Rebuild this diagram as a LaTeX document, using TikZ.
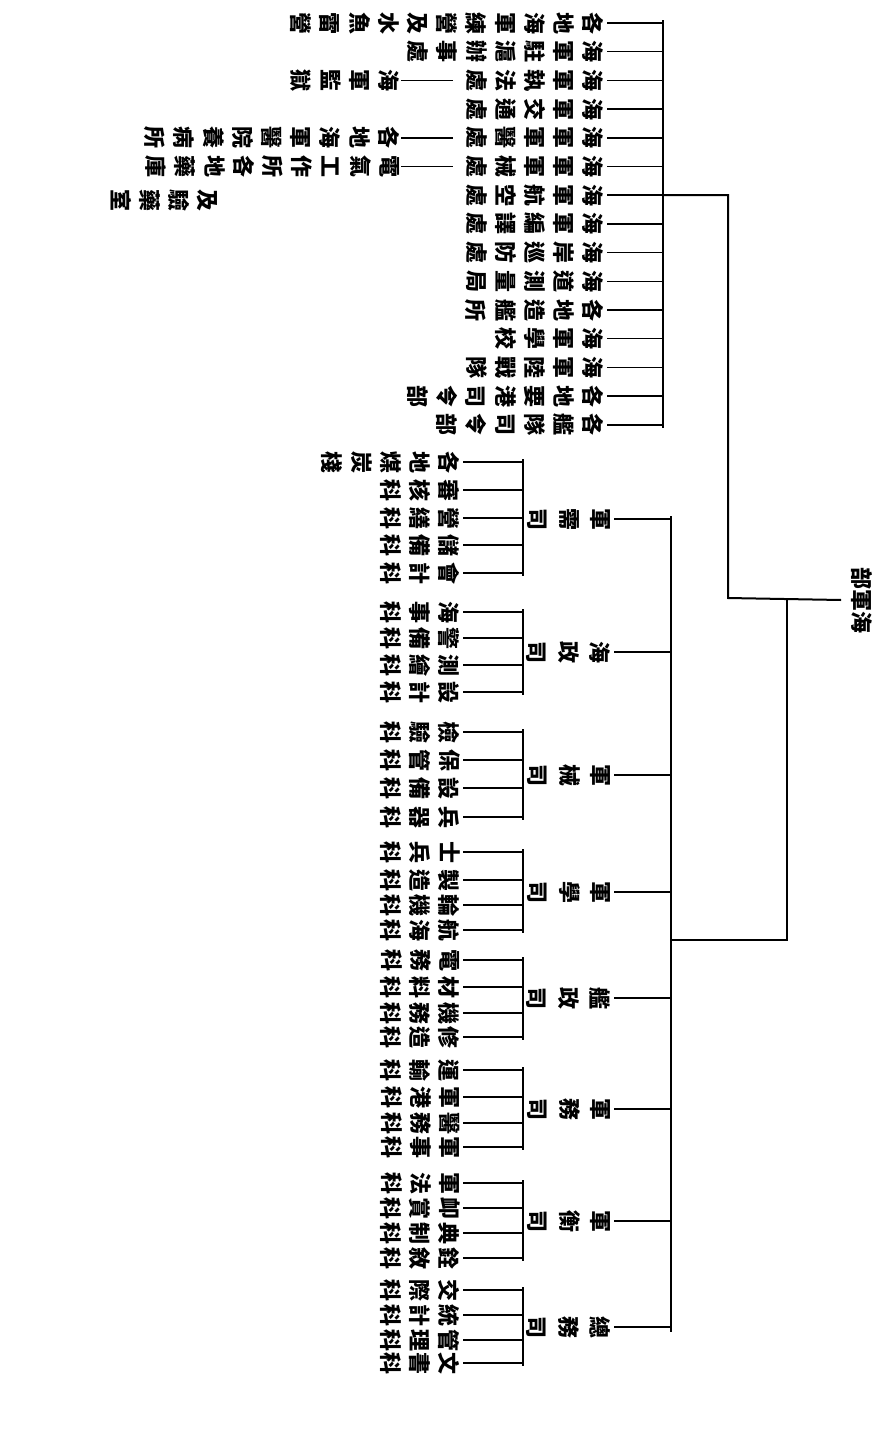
\documentclass[tikz,border=0pt]{standalone}
\usepackage{fontspec}
\newfontfamily\cjk{Noto Sans CJK TC}
\newcommand\uitem[4]{\node[ch] (#1) at ({593-29.2*#2+11},{23+28.7*(#3-1)}) {#4};}
\newcommand\sitem[3]{\node[ch] (#1) at (460,#2) {#3};}
\begin{document}
\begin{tikzpicture}[x=1pt,y=-1pt,
  ch/.style={font=\cjk\bfseries\fontsize{22}{29.2}\selectfont, rotate=-90, align=center, inner sep=0pt, anchor=north},
  sl/.style={ch, font=\cjk\bfseries\fontsize{22}{31.5}\selectfont},
  rootlbl/.style={font=\cjk\bfseries\fontsize{22}{26}\selectfont, rotate=-90, inner sep=0pt},
  bar/.style={line width=2pt},
  tk/.style={line width=1.5pt}]
\fill[white] (0,0) rectangle (881,1443);
\useasboundingbox (0,0) rectangle (881,1443);

% ---------- root ----------
\node[rootlbl] (root) at (862,600) {部軍海};

% ---------- upper section ----------
\uitem{u1}{0}{1}{各\\地\\海\\軍\\練\\營\\及\\水\\魚\\雷\\營}
\uitem{u2}{0}{2}{海\\軍\\駐\\滬\\辦\\事\\處}
\uitem{u3}{0}{3}{海\\軍\\執\\法\\處}
\uitem{u3a}{7}{3}{海\\軍\\監\\獄}
\uitem{u4}{0}{4}{海\\軍\\交\\通\\處}
\uitem{u5}{0}{5}{海\\軍\\軍\\醫\\處}
\uitem{u5a}{7}{5}{各\\地\\海\\軍\\醫\\院\\養\\病\\所}
\uitem{u6}{0}{6}{海\\軍\\軍\\械\\處}
\uitem{u6a}{7}{6}{電\\氣\\工\\作\\所\\各\\地\\藥\\庫}
\node[ch] (u6b) at (218,200) {及\\驗\\藥\\室};
\uitem{u7}{0}{7}{海\\軍\\航\\空\\處}
\uitem{u8}{0}{8}{海\\軍\\編\\譯\\處}
\uitem{u9}{0}{9}{海\\岸\\巡\\防\\處}
\uitem{u10}{0}{10}{海\\道\\測\\量\\局}
\uitem{u11}{0}{11}{各\\地\\造\\艦\\所}
\uitem{u12}{0}{12}{海\\軍\\學\\校}
\uitem{u13}{0}{13}{海\\軍\\陸\\戰\\隊}
\uitem{u14}{0}{14}{各\\地\\要\\港\\司\\令\\部}
\uitem{u15}{0}{15}{各\\艦\\隊\\司\\令\\部}

\coordinate (ubar) at (663,0);
\coordinate (ja) at (728,598);
\coordinate (jb) at (787,598);
\coordinate (jc) at (787,940);
\coordinate (mbar) at (671,0);
\coordinate (sbar) at (523,0);

\draw[bar] ([yshift=3pt]u1.north -| ubar) -- ([yshift=-3pt]u15.north -| ubar);
\foreach \k in {1,...,15} \draw[tk] ([xshift=3pt]u\k.north) -- (u\k.north -| ubar);
\draw[tk] ([xshift=-13pt]u3.south) -- ([xshift=1pt]u3a.north);
\draw[tk] ([xshift=-13pt]u5.south) -- ([xshift=1pt]u5a.north);
\draw[tk] ([xshift=-13pt]u6.south) -- ([xshift=1pt]u6a.north);

% ---------- root connectors ----------
\draw[bar] ([xshift=-10pt]root.south) -- (ja) -- (ja |- u7.north) -- (u7.north -| ubar);
\draw[bar] (jb) -- (jc) -- (jc -| mbar);

% ---------- second level ----------
\node[sl] (s1) at (611,519) {軍\\需\\司};
\node[sl] (s2) at (611,652) {海\\政\\司};
\node[sl] (s3) at (611,775) {軍\\械\\司};
\node[sl] (s4) at (611,892) {軍\\學\\司};
\node[sl] (s5) at (611,998) {艦\\政\\司};
\node[sl] (s6) at (611,1109) {軍\\務\\司};
\node[sl] (s7) at (611,1221) {軍\\衡\\司};
\node[sl] (s8) at (611,1327) {總\\務\\司};
\draw[bar] ([yshift=3pt]s1.north -| mbar) -- ([yshift=-5pt]s8.north -| mbar);
\foreach \k in {1,...,8} \draw[tk] ([xshift=3pt]s\k.north) -- (s\k.north -| mbar);

% ---------- third level ----------
\sitem{a1}{462}{各\\地\\煤\\炭\\棧}
\sitem{a2}{490}{審\\核\\科}
\sitem{a3}{518}{營\\繕\\科}
\sitem{a4}{545}{儲\\備\\科}
\sitem{a5}{573}{會\\計\\科}
\sitem{b1}{612}{海\\事\\科}
\sitem{b2}{638}{警\\備\\科}
\sitem{b3}{665}{測\\繪\\科}
\sitem{b4}{692}{設\\計\\科}
\sitem{c1}{732}{檢\\驗\\科}
\sitem{c2}{760}{保\\管\\科}
\sitem{c3}{788}{設\\備\\科}
\sitem{c4}{817}{兵\\器\\科}
\sitem{d1}{852}{士\\兵\\科}
\sitem{d2}{880}{製\\造\\科}
\sitem{d3}{905}{輪\\機\\科}
\sitem{d4}{930}{航\\海\\科}
\sitem{e1}{960}{電\\務\\科}
\sitem{e2}{987}{材\\料\\科}
\sitem{e3}{1013}{機\\務\\科}
\sitem{e4}{1037}{修\\造\\科}
\sitem{f1}{1070}{運\\輸\\科}
\sitem{f2}{1097}{軍\\港\\科}
\sitem{f3}{1123}{醫\\務\\科}
\sitem{f4}{1147}{軍\\事\\科}
\sitem{g1}{1183}{軍\\法\\科}
\sitem{g2}{1208}{卹\\賞\\科}
\sitem{g3}{1233}{典\\制\\科}
\sitem{g4}{1258}{銓\\敘\\科}
\sitem{h1}{1290}{交\\際\\科}
\sitem{h2}{1315}{統\\計\\科}
\sitem{h3}{1340}{管\\理\\科}
\sitem{h4}{1363}{文\\書\\科}

\draw[bar] ([yshift=3pt]a1.north -| sbar) -- ([yshift=-3pt]a5.north -| sbar);
\foreach \k in {1,...,5} \draw[tk] ([xshift=3pt]a\k.north) -- (a\k.north -| sbar);
\foreach \g in {b,c,d,e,f,g,h}{
  \draw[bar] ([yshift=3pt]\g1.north -| sbar) -- ([yshift=-3pt]\g4.north -| sbar);
  \foreach \k in {1,...,4} \draw[tk] ([xshift=3pt]\g\k.north) -- (\g\k.north -| sbar);
}
\end{tikzpicture}
\end{document}
